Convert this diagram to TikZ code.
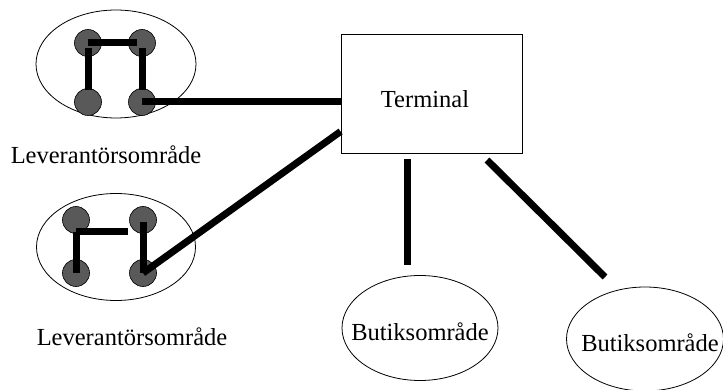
\documentclass[tikz,border=0pt]{standalone}
\usepackage{fontspec}
\setmainfont{Liberation Serif}
\usetikzlibrary{shapes.geometric}
\begin{document}
\begin{tikzpicture}[x=1pt,y=-1pt,
  area/.style={draw, ellipse, line width=0.8pt, inner sep=0pt, minimum width=#1},
  dot/.style={circle, draw, line width=0.6pt, fill=black!65, minimum size=27pt, inner sep=0pt},
  link/.style={line width=7pt},
  lbl/.style={font=\fontsize{24.5}{28}\selectfont, inner sep=0pt},
  termbox/.style={draw, line width=0.8pt, minimum width=181pt, minimum height=119pt, inner sep=0pt}]
\useasboundingbox (0,0) rectangle (723,390);

% terminal
\node[termbox] (term) at (431.5,93.5) {};
\node[lbl] (termtxt) at (425,99) {Terminal};

% upper supplier area
\node[area=160pt, minimum height=108pt] (sup1) at (116,64) {};
\node[dot] (a1) at (88,43) {};
\node[dot] (b1) at (142,43) {};
\node[dot] (c1) at (88,102) {};
\node[dot] (d1) at (142,102) {};
\draw[link] (a1.center) -- ([xshift=-5pt]b1.center);
\draw[link] ([yshift=-5pt]a1.center) -- ([yshift=12pt]c1.center);
\draw[link] ([yshift=-5pt]b1.center) -- ([yshift=12pt]d1.center);
\draw[link] (d1.center) -- (d1.center -| term.west);
\node[lbl] (sup1txt) at (106,155) {Leverantörsområde};

% lower supplier area
\node[area=159pt, minimum height=107pt] (sup2) at (116,247) {};
\node[dot] (a2) at (76,220) {};
\node[dot] (b2) at (143,220) {};
\node[dot] (c2) at (76,273) {};
\node[dot] (d2) at (143,273) {};
\draw[link] ([yshift=-12pt]a2.center) -- ([xshift=-15pt,yshift=-12pt]b2.center);
\draw[link] ([yshift=-12pt]a2.center) -- (c2.center);
\draw[link] ([yshift=-2pt]b2.center) -- (d2.center);
\coordinate (t2) at ([yshift=-38pt]term.west);
\draw[link] (d2.center) -- (t2);
\node[lbl] (sup2txt) at (132,337) {Leverantörsområde};

% shop areas
\node[area=156pt, minimum height=105pt] (shop1) at (420,328) {};
\node[lbl] at (420,332) {Butiksområde};
\node[area=157pt, minimum height=104pt] (shop2) at (645,339) {};
\node[lbl] at (650,343) {Butiksområde};

\coordinate (s1a) at ([yshift=-6pt]term.south -| 407,0);
\coordinate (s1b) at ([yshift=10pt]shop1.north -| 407,0);
\draw[link] (s1a) -- (s1b);
\coordinate (s2a) at (487,160);
\coordinate (s2b) at (605,277);
\draw[link] (s2a) -- (s2b);
\end{tikzpicture}
\end{document}
